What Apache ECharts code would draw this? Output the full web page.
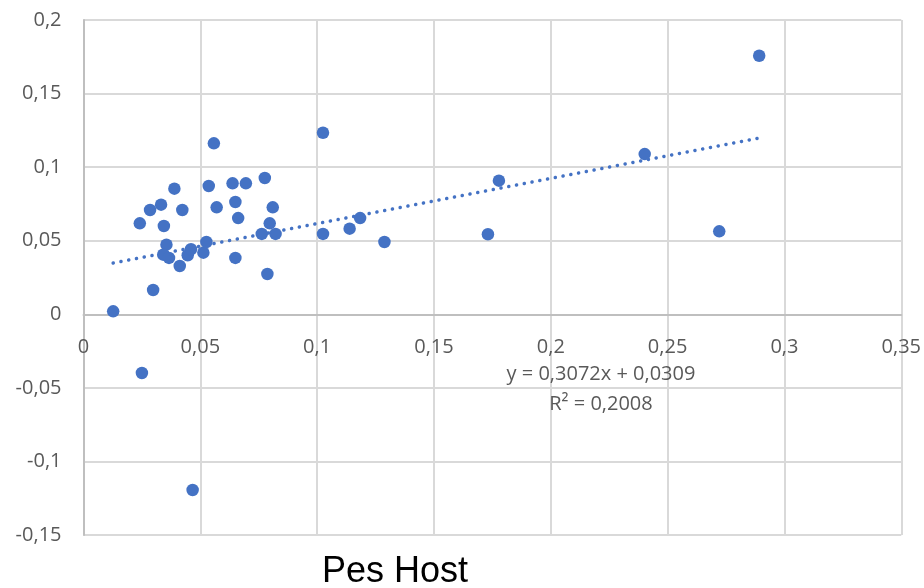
<!DOCTYPE html>
<html>
<head>
<meta charset="utf-8">
<script src="https://cdn.jsdelivr.net/npm/echarts@6/dist/echarts.min.js"></script>
<style>
html,body{margin:0;padding:0;background:#fff;}
#chart{width:924px;height:588px;}
</style>
</head>
<body>
<div id="chart"></div>
<script>
// Scatter data (x, y)
const xValues = [0.0127,0.0250,0.0467,0.0298,0.0241,0.0285,0.0332,0.0389,0.0344,0.0423,
  0.0355,0.0341,0.0366,0.0412,0.0446,0.0460,0.0513,0.0526,0.0536,0.0558,
  0.0570,0.0638,0.0695,0.0650,0.0662,0.0650,0.0776,0.0810,0.0797,0.0763,
  0.0822,0.0787,0.1025,0.1025,0.1139,0.1184,0.1288,0.1731,0.1778,0.2402,
  0.2721,0.2892];
const yValues = [0.0020,-0.0399,-0.1194,0.0165,0.0618,0.0709,0.0745,0.0854,0.0600,0.0709,
  0.0473,0.0405,0.0383,0.0328,0.0401,0.0442,0.0419,0.0491,0.0872,0.1162,
  0.0727,0.0890,0.0890,0.0763,0.0654,0.0383,0.0926,0.0727,0.0618,0.0546,
  0.0546,0.0274,0.1234,0.0546,0.0582,0.0654,0.0491,0.0544,0.0908,0.1089,
  0.0564,0.1757];
// Trendline coefficients shown on the chart
const trendSlope = 0.3072;
const trendIntercept = 0.0309;
const trendR2 = 0.2008;
const xTitle = 'Pes Host';
const yMin = -0.15, yMax = 0.2;

const fmt = v => String(Math.round(v*1000)/1000).replace('.', ',');
const points = xValues.map((x,i)=>[x, yValues[i]]);
const xMin = Math.min(...xValues), xMax = Math.max(...xValues);
const trend = [xMin, xMax].map(x => [x, trendIntercept + trendSlope*x]);
const fmt4 = v => v.toFixed(4).replace('.', ',');

const gridTop = 20, gridBottom = 53, H = 588;
const plotH = H - gridTop - gridBottom;
// place the x axis where y = 0 (offset upward from grid bottom)
const zeroOffset = -plotH * (0 - yMin) / (yMax - yMin);

const chart = echarts.init(document.getElementById('chart'), null, {renderer:'canvas'});
const labelStyle = {color:'#595959', fontSize:20, fontFamily:'Open Sans'};
chart.setOption({
  animation:false,
  grid:{left:83.5, right:20.5, top:gridTop, bottom:gridBottom},
  xAxis:{
    type:'value', min:0, max:0.35, interval:0.05, position:'bottom', offset:zeroOffset,
    axisLine:{show:true, onZero:false, lineStyle:{color:'#bfbfbf', width:2}},
    axisTick:{show:false},
    axisLabel:Object.assign({margin:23, formatter:fmt, showMaxLabel:true}, labelStyle),
    splitLine:{show:true, lineStyle:{color:'#d9d9d9', width:2}}
  },
  yAxis:{
    type:'value', min:yMin, max:yMax, interval:0.05,
    axisLine:{show:true, lineStyle:{color:'#bfbfbf', width:2}},
    axisTick:{show:false},
    axisLabel:Object.assign({margin:22, formatter:fmt}, labelStyle),
    splitLine:{show:true, lineStyle:{color:'#d9d9d9', width:2}}
  },
  series:[
    {
      type:'line', data:trend, symbol:'none', silent:true, z:3,
      lineStyle:{color:'#4472C4', width:3.5, type:[0.1,7.8], cap:'round'}
    },
    {
      type:'scatter', data:points, symbol:'circle', symbolSize:12.5, z:4,
      itemStyle:{color:'#4472C4', opacity:1}
    }
  ],
  graphic:[
    {type:'text', x:601, y:374, z:10, style:{text:'y = '+fmt4(trendSlope)+'x + '+fmt4(trendIntercept), fill:'#595959', font:'20px "Open Sans"', textAlign:'center', textVerticalAlign:'middle'}},
    {type:'text', x:601, y:404, z:10, style:{text:'R² = '+fmt4(trendR2), fill:'#595959', font:'20px "Open Sans"', textAlign:'center', textVerticalAlign:'middle'}},
    {type:'text', x:395, y:572, z:10, style:{text:xTitle, fill:'#000000', font:'36px "Liberation Sans"', textAlign:'center', textVerticalAlign:'middle'}}
  ]
});
</script>
</body>
</html>
